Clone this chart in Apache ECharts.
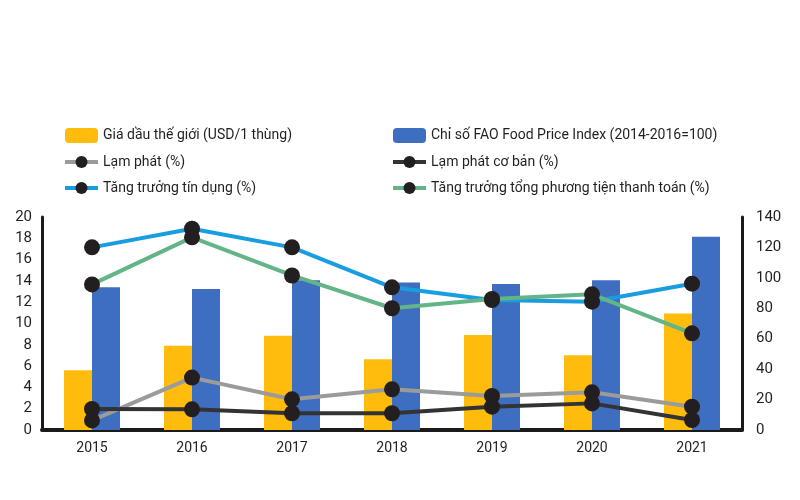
<!DOCTYPE html>
<html>
<head>
<meta charset="utf-8">
<script src="https://cdn.jsdelivr.net/npm/echarts@6/dist/echarts.min.js"></script>
<style>
html,body{margin:0;padding:0;background:#fff;}
#chart{width:800px;height:500px;}
</style>
</head>
<body>
<div id="chart"></div>
<script>
const years = ['2015','2016','2017','2018','2019','2020','2021'];
const oilPrice = [39.3, 55.3, 61.9, 46.5, 62.5, 49.2, 76.6];
const faoIndex = [93.9, 92.6, 98.5, 97.0, 95.9, 98.5, 127.0];
const inflation = [0.9, 4.92, 2.88, 3.82, 3.2, 3.54, 2.19];
const coreInflation = [1.97, 1.94, 1.57, 1.57, 2.19, 2.5, 0.94];
const creditGrowth = [17.15, 18.9, 17.15, 13.4, 12.2, 12.05, 13.74];
const m2Growth = [13.67, 18.09, 14.51, 11.43, 12.3, 12.74, 9.08];

const names = {
  oil: 'Giá dầu thế giới (USD/1 thùng)',
  fao: 'Chỉ số FAO Food Price Index (2014-2016=100)',
  inf: 'Lạm phát (%)',
  core: 'Lạm phát cơ bản (%)',
  credit: 'Tăng trưởng tín dụng (%)',
  m2: 'Tăng trưởng tổng phương tiện thanh toán (%)'
};

const FONT = '"Liberation Sans Narrow", "Roboto", sans-serif';
const dot = '#231f20';

function lineSeries(name, data, color) {
  return {
    name: name, type: 'line', yAxisIndex: 0, data: data,
    symbol: 'circle', symbolSize: 16,
    lineStyle: { color: color, width: 4 },
    itemStyle: { color: dot, borderWidth: 0 },
    z: 5
  };
}

const legendBase = {
  orient: 'vertical', itemGap: 12, itemWidth: 33, itemHeight: 15,
  textStyle: { fontFamily: FONT, fontSize: 14, color: '#231f20' },
  lineStyle: { width: 4 },
  selectedMode: false
};

const chart = echarts.init(document.getElementById('chart'));
chart.setOption({
  animation: false,
  backgroundColor: '#fff',
  legend: [
    Object.assign({}, legendBase, { left: 58, top: 123, data: [names.oil, names.inf, names.credit] }),
    Object.assign({}, legendBase, { left: 386, top: 123, data: [names.fao, names.core, names.m2] })
  ],
  grid: { left: 42, right: 58, top: 217, bottom: 70 },
  xAxis: {
    type: 'category', data: years,
    axisLine: { lineStyle: { color: '#1a1a1a', width: 4 } },
    axisTick: { show: false },
    axisLabel: { fontFamily: FONT, fontSize: 14, color: '#231f20', margin: 11 }
  },
  yAxis: [
    {
      type: 'value', min: 0, max: 20, interval: 2,
      axisLine: { show: true, lineStyle: { color: '#1a1a1a', width: 3 } },
      axisTick: { show: false }, splitLine: { show: false },
      axisLabel: { fontFamily: FONT, fontSize: 15, color: '#231f20', margin: 10 }
    },
    {
      type: 'value', min: 0, max: 140, interval: 20, position: 'right',
      axisLine: { show: true, lineStyle: { color: '#1a1a1a', width: 3 } },
      axisTick: { show: false }, splitLine: { show: false },
      axisLabel: { fontFamily: FONT, fontSize: 15, color: '#231f20', margin: 14 }
    }
  ],
  series: [
    { name: names.oil, type: 'bar', yAxisIndex: 1, data: oilPrice, barWidth: 28, barGap: '0%',
      itemStyle: { color: '#ffbc0d' } },
    { name: names.fao, type: 'bar', yAxisIndex: 1, data: faoIndex, barWidth: 28, barGap: '0%',
      itemStyle: { color: '#3d6ec0' } },
    lineSeries(names.inf, inflation, '#9b9b9b'),
    lineSeries(names.core, coreInflation, '#333336'),
    lineSeries(names.credit, creditGrowth, '#1a9de0'),
    lineSeries(names.m2, m2Growth, '#63b487')
  ]
});
</script>
</body>
</html>
